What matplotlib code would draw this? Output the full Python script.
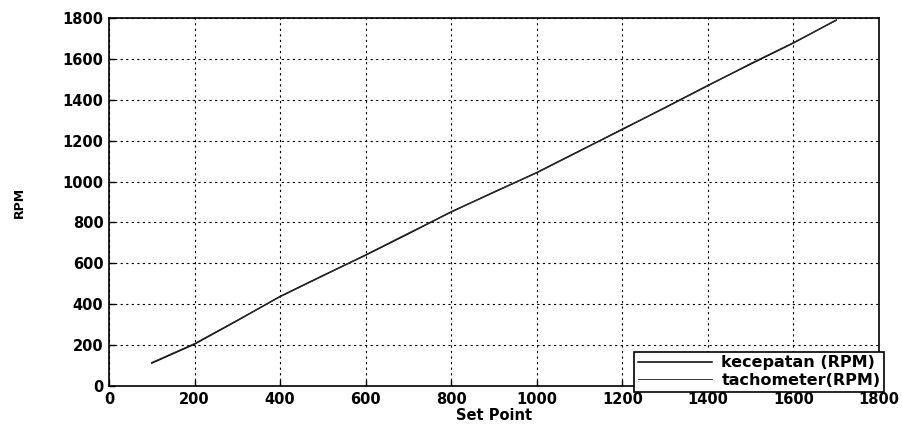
import matplotlib
matplotlib.use('Agg')
from matplotlib import pyplot as plt

set_point = [100, 200, 300, 400, 500, 600, 700, 800, 900,
             1000, 1100, 1200, 1300, 1400, 1500, 1600, 1700]
kecepatan = [112, 205, 320, 438, 540, 640, 745, 852, 948,
             1044, 1150, 1255, 1362, 1470, 1575, 1678, 1790]
tachometer = [115, 208, 322, 436, 538, 642, 748, 850, 950,
              1042, 1148, 1258, 1360, 1468, 1578, 1680, 1788]
ticks = [0, 200, 400, 600, 800, 1000, 1200, 1400, 1600, 1800]

plt.rcParams['font.family'] = ['DejaVu Sans']
plt.rcParams['font.weight'] = 'bold'

fig = plt.figure(figsize=(9.02, 4.26), dpi=100)
ax = fig.add_axes([0.1208, 0.0939, 0.8537, 0.8638])

ax.plot(set_point, kecepatan, color='black', lw=1.1, label='kecepatan (RPM)')
ax.plot(set_point, tachometer, color='#333333', lw=0.7, label='tachometer(RPM)')

ax.set_xlim(0, 1800)
ax.set_ylim(0, 1800)
ax.set_xticks(ticks)
ax.set_yticks(ticks)
ax.tick_params(direction='in', length=4, width=1, labelsize=10.5, pad=4)
for lab in ax.get_xticklabels() + ax.get_yticklabels():
    lab.set_fontweight('bold')
ax.grid(True, color='black', linestyle=(0, (2, 3)), linewidth=0.8)
for sp in ax.spines.values():
    sp.set_linewidth(1.2)

ax.set_xlabel('Set Point', fontsize=10.5, fontweight='bold', labelpad=1)
ax.set_ylabel('RPM', fontsize=9, fontweight='bold', labelpad=26)

leg = ax.legend(loc='lower right', bbox_to_anchor=(1.007, -0.016), fontsize=11.5,
                handlelength=4.6, frameon=True, fancybox=False,
                borderpad=0.25, labelspacing=0.15, handletextpad=0.6,
                borderaxespad=0)
leg.get_frame().set_edgecolor('black')
leg.get_frame().set_linewidth(1.2)
leg.get_frame().set_alpha(1)
for t in leg.get_texts():
    t.set_fontweight('bold')

plt.savefig('out.png', dpi=100)
